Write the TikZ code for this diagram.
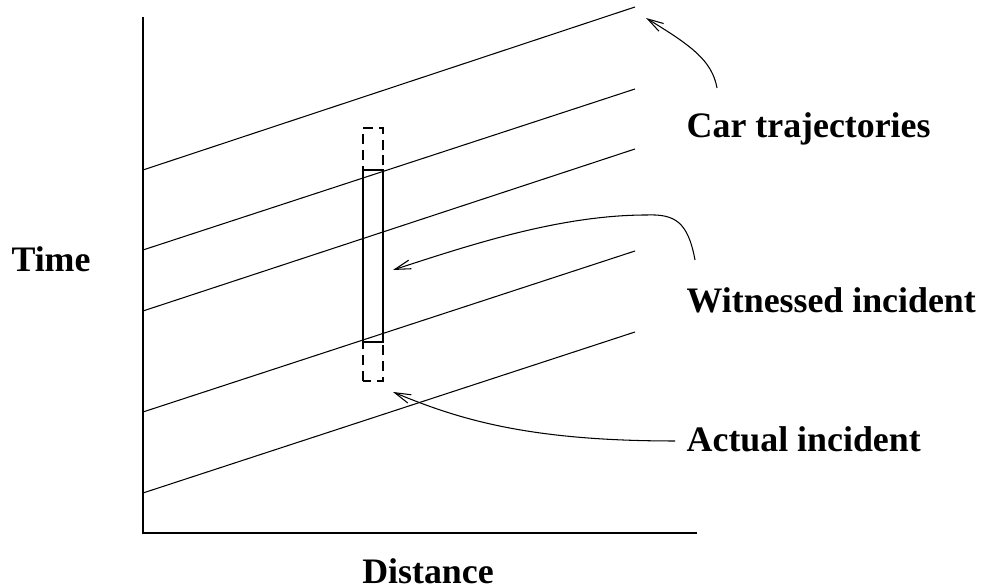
\documentclass[tikz,border=0pt]{standalone}
\usepackage{fontspec}
\setmainfont{Liberation Serif}
\usetikzlibrary{arrows.meta}

\begin{document}
\begin{tikzpicture}[>={Straight Barb[length=1.6mm,width=0.9mm]},
    lbl/.style={font=\fontsize{10.2}{12}\selectfont\bfseries, inner sep=0pt},
    traj/.style={line width=0.3pt},
    callout/.style={->, line width=0.3pt}]
    \useasboundingbox (0,0) rectangle (9.82,5.87);

    % axes
    \coordinate (O) at (1.43,0.54);
    \coordinate (ytop) at (1.43,5.70);
    \coordinate (xend) at (6.97,0.54);
    \draw[line width=0.6pt] (ytop) -- (O) -- (xend);
    \node[lbl] (time) at (0.51,3.28) {Time};
    \node[lbl] (dist) at (4.28,0.16) {Distance};

    % car trajectories
    \draw[traj] (1.43,4.17) -- (6.35,5.80);
    \draw[traj] (1.43,3.37) -- (6.35,4.98);
    \draw[traj] (1.43,2.76) -- (6.35,4.38);
    \draw[traj] (1.43,1.75) -- (6.35,3.36);
    \draw[traj] (1.43,0.94) -- (6.35,2.55);

    % incidents
    \draw[line width=0.4pt] (3.63,2.45) rectangle (3.83,4.17);
    \draw[line width=0.4pt, dash pattern=on 2.8pt off 1.7pt] (3.63,2.06) rectangle (3.83,4.59);

    % labels
    \node[lbl, anchor=base west] (carlbl) at (6.86,4.49) {Car trajectories};
    \node[lbl, anchor=base west] (witlbl) at (6.86,2.74) {Witnessed incident};
    \node[lbl, anchor=base west] (actlbl) at (6.86,1.35) {Actual incident};

    % callouts
    \coordinate (carTail) at (7.17,4.99);
    \coordinate (carTip) at (6.46,5.69);
    \coordinate (witTail) at (6.95,3.27);
    \coordinate (witTip) at (3.93,3.17);
    \coordinate (actTail) at (6.75,1.46);
    \coordinate (actTip) at (3.93,1.95);
    \draw[callout] (carTail) .. controls (7.12,5.27) and (6.90,5.42) .. (carTip);
    \draw[callout] (witTail) .. controls (6.88,3.65) and (6.75,3.73) .. (6.47,3.72)
        .. controls (5.60,3.72) and (4.70,3.42) .. (witTip);
    \draw[callout] (actTail) .. controls (5.30,1.46) and (4.60,1.67) .. (actTip);
\end{tikzpicture}
\end{document}
